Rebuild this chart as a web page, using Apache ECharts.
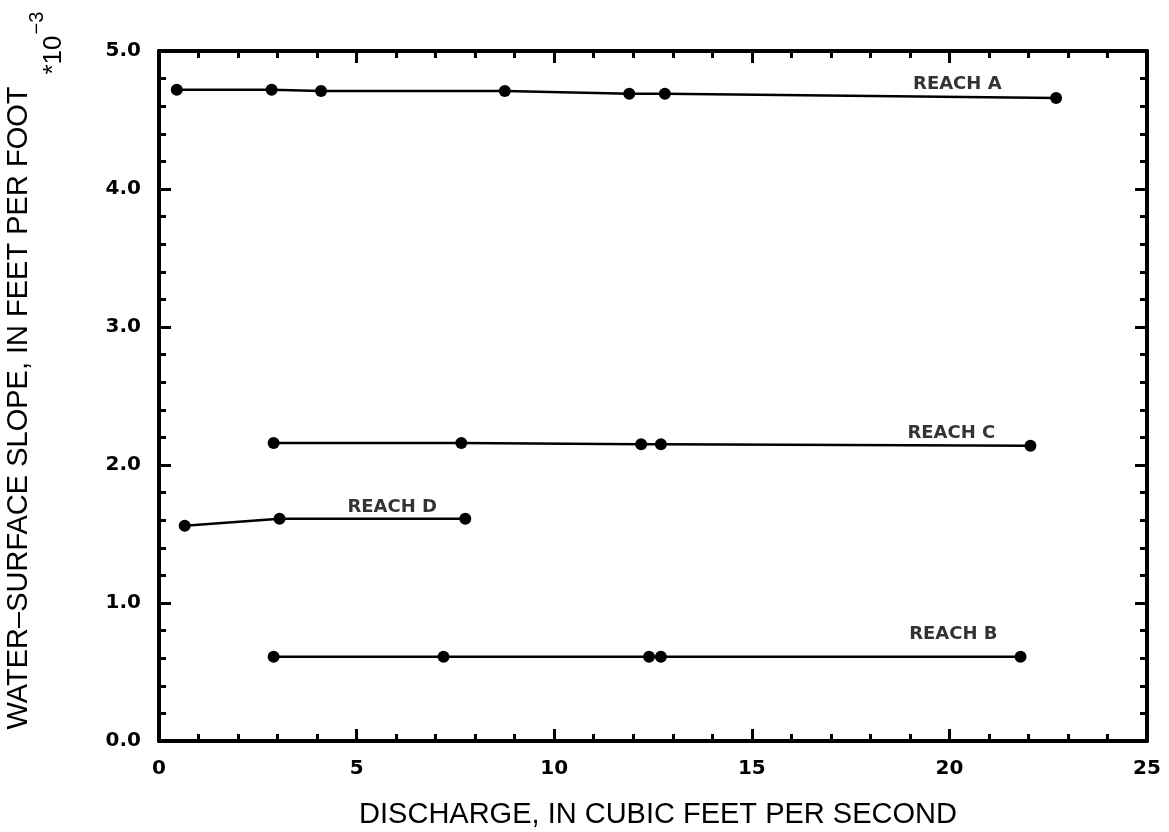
<!DOCTYPE html>
<html>
<head>
<meta charset="utf-8">
<title>Water-surface slope vs discharge</title>
<script src="https://cdn.jsdelivr.net/npm/echarts@6/dist/echarts.min.js"></script>
<style>
  html, body { margin: 0; padding: 0; background: #fff; }
  #chart { width: 1169px; height: 832px; }
</style>
</head>
<body>
<div id="chart"></div>
<script>
// Measured slope (x10^-3 ft/ft) against discharge (ft3/s) for each reach
const reachA = [[0.45, 4.72], [2.85, 4.72], [4.1, 4.71], [8.75, 4.71], [11.9, 4.69], [12.8, 4.69], [22.7, 4.66]];
const reachB = [[2.9, 0.61], [7.2, 0.61], [12.4, 0.61], [12.7, 0.61], [21.8, 0.61]];
const reachC = [[2.9, 2.16], [7.65, 2.16], [12.2, 2.15], [12.7, 2.15], [22.05, 2.14]];
const reachD = [[0.65, 1.56], [3.05, 1.61], [7.75, 1.61]];

// Reach names and where each one is written
const reachLabels = [
  [20.2, 4.76, 'REACH A'],
  [20.05, 2.23, 'REACH C'],
  [5.9, 1.69, 'REACH D'],
  [20.1, 0.77, 'REACH B']
];

// Axis tick labels
const xTickLabels = ['0', '5', '10', '15', '20', '25'];
const yTickLabels = ['0.0', '1.0', '2.0', '3.0', '4.0', '5.0'];

const xTitle = 'DISCHARGE, IN CUBIC FEET PER SECOND';
const yTitle = 'WATER\u2013SURFACE SLOPE, IN FEET PER FOOT';

const INK = '#000';
const tickFont = { color: INK, fontFamily: 'DejaVu Sans', fontWeight: 'bold', fontSize: 20 };

function frameAxis(isX, position, showLabels) {
  const ax = {
    type: 'value',
    position: position,
    min: 0,
    max: isX ? 25 : 5,
    interval: isX ? 5 : 1,
    axisLine: { show: true, onZero: false, lineStyle: { color: INK, width: 4 } },
    axisTick: { show: true, inside: true, length: 12, lineStyle: { color: INK, width: 3 } },
    minorTick: { show: true, splitNumber: 5, length: 7, lineStyle: { color: INK, width: 3 } },
    splitLine: { show: false },
    minorSplitLine: { show: false },
    axisLabel: { show: showLabels }
  };
  if (showLabels) {
    ax.axisLabel = Object.assign({
      show: true,
      margin: 18,
      formatter: isX
        ? (v) => xTickLabels[Math.round(v / 5)]
        : (v) => yTickLabels[Math.round(v)]
    }, tickFont);
  }
  return ax;
}

function reachSeries(name, data) {
  return {
    name: name,
    type: 'line',
    data: data,
    symbol: 'circle',
    symbolSize: 12,
    showSymbol: true,
    itemStyle: { color: INK },
    lineStyle: { color: INK, width: 2.5 },
    emphasis: { disabled: true },
    animation: false,
    z: 3
  };
}

const chart = echarts.init(document.getElementById('chart'), null, { renderer: 'canvas' });

chart.setOption({
  backgroundColor: '#fff',
  animation: false,
  grid: { left: 159, right: 22, top: 51, bottom: 91, containLabel: false },
  xAxis: [frameAxis(true, 'bottom', true), frameAxis(true, 'top', false)],
  yAxis: [frameAxis(false, 'left', true), frameAxis(false, 'right', false)],
  series: [
    reachSeries('Reach A', reachA),
    reachSeries('Reach B', reachB),
    reachSeries('Reach C', reachC),
    reachSeries('Reach D', reachD),
    {
      name: 'labels',
      type: 'scatter',
      data: reachLabels,
      symbolSize: 0,
      silent: true,
      animation: false,
      label: {
        show: true,
        position: 'inside',
        formatter: (p) => p.data[2],
        color: INK,
        fontFamily: 'DejaVu Sans',
        fontWeight: 'bold',
        fontSize: 18
      }
    }
  ],
  graphic: [
    {
      type: 'text',
      x: 658, y: 815,
      style: {
        text: xTitle,
        fill: INK,
        font: '29px "Liberation Sans", Arial, sans-serif',
        align: 'center',
        verticalAlign: 'middle'
      }
    },
    {
      type: 'text',
      x: 19, y: 408,
      rotation: Math.PI / 2,
      style: {
        text: yTitle,
        fill: INK,
        font: '29px "Liberation Sans", Arial, sans-serif',
        align: 'center',
        verticalAlign: 'middle'
      }
    },
    {
      type: 'text',
      x: 54, y: 55,
      rotation: Math.PI / 2,
      style: {
        text: '*10',
        fill: INK,
        font: '26px "Liberation Sans", Arial, sans-serif',
        align: 'center',
        verticalAlign: 'middle'
      }
    },
    {
      type: 'text',
      x: 37, y: 23,
      rotation: Math.PI / 2,
      style: {
        text: '\u22123',
        fill: INK,
        font: '20px "Liberation Sans", Arial, sans-serif',
        align: 'center',
        verticalAlign: 'middle'
      }
    }
  ]
});
</script>
</body>
</html>
